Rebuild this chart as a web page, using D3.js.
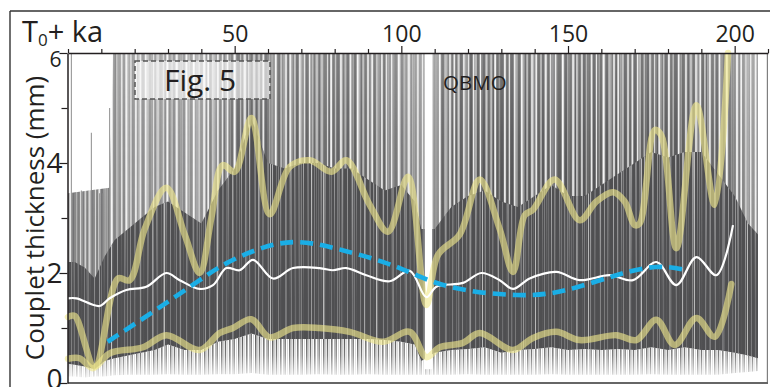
<!DOCTYPE html>
<html><head><meta charset="utf-8">
<script src="https://cdn.jsdelivr.net/npm/d3@7"></script>
<style>
html,body{margin:0;padding:0;background:#fff;}
svg{display:block;font-family:"Open Sans","Liberation Sans",sans-serif;}
</style></head><body>
<svg id="chart" width="770" height="387"></svg>
<script>
// ---------------- data ----------------
const xTickValues = [0,10,20,30,40,50,60,70,80,90,100,110,120,130,140,150,160,170,180,190,200,210];
const xTickLabels = [50,100,150,200];
const yTickValues = [0,1,2,3,4,5,6];
const yTickLabels = [0,2,4,6];

// upper (yellow) envelope
const upperAge = [0,2,8,15,18.5,23,29.5,35,39.5,43,46.4,50,55,60.5,66.5,72.5,79,83.5,90.5,96,102,107.5,111,117.5,123.5,129.5,133.5,137,139.5,146,153.5,158.5,163.5,167,170,171.5,176,178,182.5,188.5,194,198];
const upperVal = [1.2,1.22,0.3,1.9,1.87,2.8,3.55,2.7,2.0,3.0,3.96,3.84,4.82,3.07,3.93,4.05,3.84,4.05,3.24,2.75,3.75,1.42,2.33,2.7,3.7,2.8,2.02,3.05,3.15,3.7,2.96,3.3,3.47,3.3,2.87,2.9,4.6,4.5,2.45,5.05,3.24,6.0];

// lower (yellow) envelope
const lowerAge = [0,3.5,7.5,12.5,22.5,29.5,39.5,45.5,49.5,55,60.5,67.5,75.5,84.5,94.5,102.5,107.5,111.5,118.5,123.5,133.5,139.5,146.5,153.5,164.5,170.5,176.5,182,188.5,194,199];
const lowerVal = [0.44,0.45,0.27,0.54,0.65,0.87,0.6,0.91,1.0,1.16,0.83,1.0,1.0,0.93,0.75,0.93,0.47,0.65,0.73,0.91,0.6,0.82,0.93,0.78,0.87,0.78,1.15,0.69,1.18,0.84,1.8];

// mean (white) curve
const meanAge = [0,2.5,9.5,12.5,17.5,23.5,29.5,33.5,39.5,43.5,47.5,51.5,55.5,61.5,67.5,75.5,79.5,83.5,89.5,96.5,102.5,107.5,110.5,118.5,124,129.5,133.5,138.5,146.5,153.5,162.5,169.5,176.5,182.5,188.5,194.5,199.5];
const meanVal = [1.54,1.54,1.4,1.54,1.69,1.75,2.0,1.87,1.71,1.78,2.09,2.05,2.24,1.9,2.09,2.09,2.05,2.09,1.96,1.85,2.04,1.56,1.75,1.82,2.0,1.87,1.71,1.9,2.02,1.87,1.96,1.87,2.2,1.78,2.29,1.96,2.87];

// long-term trend (blue dashed)
const trendAge = [11.9,25.4,39.5,47.6,57.5,69.5,84.5,99.5,114.5,134.5,149.5,164.5,176.5,185.5];
const trendVal = [0.75,1.29,1.87,2.18,2.44,2.56,2.38,2.09,1.75,1.6,1.69,1.96,2.11,2.05];

// couplet cloud: dense core, fringe and sparse spikes
const bandAge      = [0,2,5,8,11,14,18,22,26,30,35,40,45,50,55,60,65,70,75,80,85,90,95,100,104,106,110,115,120,125,130,135,140,145,150,155,160,165,170,175,180,185,190,195,200,204,207];
const denseTop     = [2.2,2.2,2.1,1.9,2.3,2.6,2.8,3.0,3.2,3.3,3.1,2.9,3.5,3.9,4.8,4.0,3.9,4.0,4.0,3.9,3.9,3.7,3.5,3.6,3.3,2.8,2.8,3.2,3.4,3.5,3.3,3.2,3.4,3.6,3.4,3.4,3.6,3.8,4.0,4.2,4.1,4.2,4.2,3.8,3.4,2.9,2.7];
const denseBottom  = [0.35,0.33,0.3,0.25,0.4,0.45,0.5,0.55,0.6,0.7,0.6,0.6,0.75,0.8,0.9,0.8,0.8,0.8,0.8,0.8,0.8,0.8,0.78,0.75,0.7,0.4,0.55,0.6,0.62,0.65,0.55,0.6,0.62,0.65,0.6,0.62,0.6,0.62,0.6,0.65,0.6,0.65,0.6,0.6,0.55,0.5,0.45];
const fringeBottom = [0.12,0.12,0.1,0.12,0.12,0.14,0.15,0.15,0.15,0.16,0.15,0.15,0.16,0.16,0.18,0.15,0.15,0.15,0.16,0.15,0.15,0.16,0.15,0.15,0.15,0.15,0.15,0.15,0.16,0.15,0.15,0.15,0.15,0.16,0.15,0.15,0.15,0.15,0.15,0.16,0.15,0.15,0.15,0.15,0.18,0.2,0.22];
const spikeDensity = [0.8,0.8,0.75,0.75,0.8,0.7,0.68,0.68,0.68,0.72,0.68,0.68,0.8,0.92,1.0,0.95,0.95,0.95,0.95,0.95,0.95,0.95,0.92,0.8,0.7,0.65,0.85,0.95,1.0,1.0,1.0,1.0,1.0,1.0,1.0,1.0,1.0,1.0,1.0,1.0,1.0,1.0,1.0,0.95,0.8,0.7,0.65];
const spikeTopAge = [0,12.5,13.5,207];
const spikeTopVal = [3.45,3.55,6,6];
const isolatedAge = [1,2,4,7,9.5,10.5,12.5,14.2,15];
const isolatedTop = [6,3.45,3.5,4.55,3.45,3.45,5.0,6,6];
const hiatus = [[107,109.3]];

// ---------------- layout ----------------
const svg = d3.select("#chart");
const x = d3.scaleLinear().domain([0,210]).range([68,768]);
const y = d3.scaleLinear().domain([0,6]).range([383,53]);
const ink = "#231f20";
const defs = svg.append("defs");

defs.append("clipPath").attr("id","plotClip").append("rect")
  .attr("x",x(0)).attr("y",y(6)).attr("width",x(207)-x(0)).attr("height",y(0)-y(6));

// stripe patterns (texture style only)
function stripePattern(id, w, stripes, bg){
  const p = defs.append("pattern").attr("id",id).attr("patternUnits","userSpaceOnUse")
    .attr("x",0).attr("y",0).attr("width",w).attr("height",400);
  if(bg) p.append("rect").attr("width",w).attr("height",400).attr("fill",bg);
  stripes.forEach(s=>{
    p.append("rect").attr("x",s[0]).attr("y",0).attr("width",s[1]).attr("height",400)
      .attr("fill",s[2]).attr("fill-opacity",s[3]===undefined?1:s[3]);
  });
}
stripePattern("spA",41,[[0.5,1.6,"#4f4f51"],[2.6,1.2,"#fff"],[4.5,2.2,"#555"],[7.4,0.9,"#ccc"],[9,2.6,"#505052"],[12.3,1.2,"#fff"],[14.2,2.0,"#5a5a5a"],[17,1.0,"#ddd"],[18.8,2.6,"#4f4f51"],[22.2,1.0,"#fff"],[23.8,1.4,"#777"],[26,2.2,"#555"],[29,1.6,"#f2f2f2"],[31.4,2.6,"#4f4f51"],[34.8,0.9,"#bbb"],[36.4,2.4,"#5c5c5c"],[39.4,1.2,"#fff"]],"#8e8e8e");
stripePattern("spB",29,[[1.5,0.9,"#fff",0.6],[6.5,1.5,"#4a4a4a",0.8],[11.5,0.8,"#fff",0.7],[17,1.3,"#555",0.7],[22.5,1.0,"#fff",0.5],[26.5,0.8,"#4f4f4f",0.8]]);
stripePattern("spC",23,[[2,0.6,"#fff",0.45],[9,0.9,"#ccc",0.35],[15,0.5,"#fff",0.5],[19,1.1,"#999",0.4]]);
stripePattern("spD",53,[[5,1,"#fff",0.6],[21,0.6,"#ddd",0.45],[34,1.4,"#aaa",0.35],[46,0.7,"#fff",0.55]]);
stripePattern("spF",31,[[1,1.2,"#fff"],[6,0.8,"#bbb"],[10.5,1.6,"#e8e8e8"],[15,0.7,"#fff"],[19,1.3,"#aaa"],[24,1,"#fff"],[28,0.7,"#ccc"]]);
stripePattern("spE",17,[[0,1.5,"#555"],[2.5,0.8,"#888"],[4,1.2,"#4f4f4f"],[6.5,0.6,"#aaa"],[8,1.6,"#666"],[11,0.8,"#999"],[12.5,1.3,"#505050"],[15,0.7,"#bbb"]]);

function hGradMask(id, ages, vals){
  const g = defs.append("linearGradient").attr("id",id+"G").attr("gradientUnits","userSpaceOnUse")
    .attr("x1",x(0)).attr("x2",x(210)).attr("y1",0).attr("y2",0);
  ages.forEach((a,i)=>g.append("stop").attr("offset",a/210).attr("stop-color","#fff").attr("stop-opacity",vals[i]));
  defs.append("mask").attr("id",id).attr("maskUnits","userSpaceOnUse")
    .attr("x",0).attr("y",0).attr("width",770).attr("height",387)
    .append("rect").attr("width",770).attr("height",387).attr("fill",`url(#${id}G)`);
}
function vGradMask(id, v1, v2, stops){
  const g = defs.append("linearGradient").attr("id",id+"G").attr("gradientUnits","userSpaceOnUse")
    .attr("x1",0).attr("x2",0).attr("y1",y(v1)).attr("y2",y(v2));
  stops.forEach(s=>g.append("stop").attr("offset",s[0]).attr("stop-color","#fff").attr("stop-opacity",s[1]));
  defs.append("mask").attr("id",id).attr("maskUnits","userSpaceOnUse")
    .attr("x",0).attr("y",0).attr("width",770).attr("height",387)
    .append("rect").attr("width",770).attr("height",387).attr("fill",`url(#${id}G)`);
}
hGradMask("densMask", bandAge, spikeDensity);
vGradMask("vertMask", 6, 3, [[0,0.78],[0.5,0.92],[1,1]]);
vGradMask("fringeMask", 0.9, 0.1, [[0,1],[0.5,0.75],[1,0.15]]);
vGradMask("streakMask", 5, 1.5, [[0,0.8],[0.4,0.4],[1,0.05]]);

// ---------------- couplet cloud ----------------
const cloud = svg.append("g").attr("clip-path","url(#plotClip)");

const spikeArea = d3.area().x((d,i)=>x(spikeTopAge[i])).y0(y(1.5)).y1((d,i)=>y(spikeTopVal[i]));
const sparse = cloud.append("g").attr("mask","url(#densMask)").append("g").attr("mask","url(#vertMask)");
sparse.append("path").datum(spikeTopVal).attr("d",spikeArea).attr("fill","url(#spA)");
sparse.append("path").datum(spikeTopVal).attr("d",spikeArea).attr("fill","url(#spB)");

cloud.selectAll("line.iso").data(isolatedAge).join("line").attr("class","iso")
  .attr("x1",d=>x(d)).attr("x2",d=>x(d)).attr("y1",y(1.5)).attr("y2",(d,i)=>y(isolatedTop[i]))
  .attr("stroke","#8c8c8c").attr("stroke-width",1);

const denseArea = d3.area().x((d,i)=>x(bandAge[i])).y0((d,i)=>y(denseBottom[i])).y1((d,i)=>y(denseTop[i]));
cloud.append("path").datum(bandAge).attr("d",denseArea).attr("fill","#4f4f51");
cloud.append("path").datum(bandAge).attr("d",denseArea).attr("fill","url(#spC)");
cloud.append("path").datum(bandAge).attr("d",denseArea).attr("fill","url(#spD)");
cloud.append("g").attr("mask","url(#streakMask)")
  .append("path").datum(bandAge).attr("d",denseArea).attr("fill","url(#spF)");

const fringeArea = d3.area().x((d,i)=>x(bandAge[i])).y0((d,i)=>y(fringeBottom[i])).y1((d,i)=>y(denseBottom[i]));
cloud.append("g").attr("mask","url(#fringeMask)")
  .append("path").datum(bandAge).attr("d",fringeArea).attr("fill","url(#spE)");

cloud.selectAll("rect.gap").data(hiatus).join("rect").attr("class","gap")
  .attr("x",d=>x(d[0])).attr("width",d=>x(d[1])-x(d[0]))
  .attr("y",y(6)).attr("height",y(0.25)-y(6)).attr("fill","#fff");

// ---------------- curves ----------------
const lineGen = (ages)=>d3.line().x((d,i)=>x(ages[i])).y(d=>y(d)).curve(d3.curveCatmullRom.alpha(0.5));
const yellow = "#f1e88c";
[[upperVal,upperAge],[lowerVal,lowerAge]].forEach(([vals,ages])=>{
  svg.append("path").datum(vals).attr("d",lineGen(ages)).attr("fill","none")
    .attr("stroke",yellow).attr("stroke-opacity",0.62).attr("stroke-width",6.5)
    .attr("stroke-linejoin","round").attr("stroke-linecap","round");
});
svg.append("path").datum(meanVal).attr("d",lineGen(meanAge)).attr("fill","none")
  .attr("stroke","#fff").attr("stroke-width",2.2).attr("stroke-linejoin","round");
svg.append("path").datum(trendVal).attr("d",d3.line().x((d,i)=>x(trendAge[i])).y(d=>y(d)).curve(d3.curveNatural)).attr("fill","none")
  .attr("stroke","#1aaee6").attr("stroke-width",4.6).attr("stroke-dasharray","13,7");

// ---------------- frame & axes ----------------
svg.append("line").attr("x1",10).attr("x2",770).attr("y1",11).attr("y2",11).attr("stroke","#333").attr("stroke-width",1.4);
svg.append("line").attr("x1",10).attr("x2",10).attr("y1",11).attr("y2",387).attr("stroke","#333").attr("stroke-width",1.4);
svg.append("line").attr("x1",x(0)).attr("x2",x(210)).attr("y1",y(0)).attr("y2",y(0)).attr("stroke","#333").attr("stroke-width",1.5);
svg.append("line").attr("x1",x(209.8)).attr("x2",x(209.8)).attr("y1",y(6)).attr("y2",y(0)).attr("stroke","#666").attr("stroke-width",1);

const topAxis = d3.axisTop(x).tickValues(xTickValues).tickSize(4).tickSizeOuter(0).tickPadding(7)
  .tickFormat(d=>xTickLabels.includes(d)?d:"");
const gx = svg.append("g").attr("transform",`translate(0,${y(6)})`).call(topAxis);
gx.select(".domain").attr("stroke",ink).attr("stroke-width",1.5);
gx.selectAll(".tick line").attr("stroke",ink).attr("stroke-width",1.2)
  .attr("y2",d=>xTickLabels.includes(d)?-7:-4);
gx.selectAll(".tick text").attr("fill",ink).attr("font-size",23).attr("font-family","'Open Sans',sans-serif");

const leftAxis = d3.axisLeft(y).tickValues(yTickValues).tickSize(6).tickSizeOuter(0).tickPadding(0)
  .tickFormat(d=>yTickLabels.includes(d)?d:"");
const gy = svg.append("g").attr("transform",`translate(${x(0)-0.5},0)`).call(leftAxis);
gy.select(".domain").attr("stroke",ink).attr("stroke-width",1.5);
gy.selectAll(".tick line").attr("stroke",ink).attr("stroke-width",1.2)
  .attr("x2",d=>yTickLabels.includes(d)?-8:-6);
gy.selectAll(".tick text").attr("fill",ink).attr("x",d=>d===6?-6:-5)
  .attr("dy",d=>d===6?"0.62em":(d===0?"0.2em":"0.34em"))
  .attr("font-size",d=>d===6?21:28).attr("font-family","'Open Sans',sans-serif");

// axis titles
const t0 = svg.append("text").attr("x",22).attr("y",42).attr("fill",ink).attr("font-size",29);
t0.append("tspan").text("T");
t0.append("tspan").attr("font-size",17).attr("dy",4).text("0");
t0.append("tspan").attr("dy",-4).text("+ ka");

svg.append("text").attr("transform","translate(44,218) rotate(-90)").attr("text-anchor","middle")
  .attr("fill",ink).attr("font-size",26).text("Couplet thickness  (mm)");

// annotations
svg.append("rect").attr("x",135).attr("y",61).attr("width",135).attr("height",38)
  .attr("fill","#fff").attr("fill-opacity",0.6).attr("stroke","#555").attr("stroke-width",1.5).attr("stroke-dasharray","5,3");
svg.append("text").attr("x",200).attr("y",91).attr("text-anchor","middle").attr("fill",ink).attr("font-size",30).text("Fig. 5");
svg.append("text").attr("x",443).attr("y",90).attr("fill",ink).attr("font-size",20.5).text("QBMO");
</script>
</body></html>
